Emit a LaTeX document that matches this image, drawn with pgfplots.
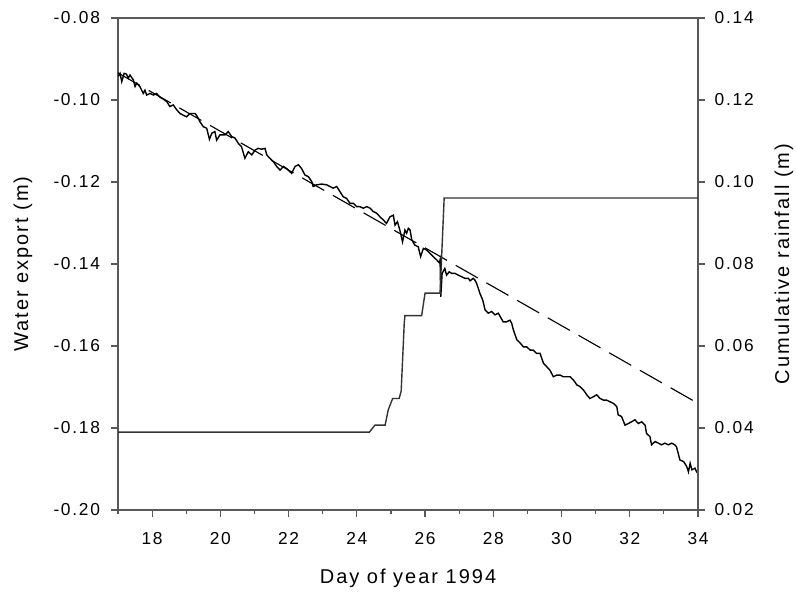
\documentclass[border=0pt]{standalone}
\usepackage{pgfplots}
\pgfplotsset{compat=1.18}
\usepackage{fontspec}
\setmainfont{Liberation Sans}[LetterSpace=10]
\definecolor{axcol}{gray}{0.35}
\newcommand{\tlf}{\fontsize{13}{15}\selectfont}
\begin{document}
\begin{tikzpicture}
\useasboundingbox (-88.5pt,-63.75pt) rectangle (508.5pt,382.5pt);
\pgfplotsset{
  mystyle/.style={
    scale only axis, width=435pt, height=369pt,
    at={(0,0)}, anchor=south west,
    xmin=17, xmax=34,
    tick align=outside,
    major tick length=5pt, minor tick length=3pt,
    axis line style={axcol, line width=0.9pt},
    every tick/.style={axcol, line width=0.9pt},
    every axis label/.append style={font=\fontsize{15}{18}\selectfont},
  }
}
\begin{axis}[mystyle,
  ymin=-0.20, ymax=-0.08,
  xtick={18,20,...,34},
  xticklabels={18,20,22,24,26,28,30,32,34},
  xticklabel style={font=\tlf, yshift=-8pt},
  minor xtick={17,19,...,33},
  xtick pos=lower, ytick pos=left,
  ytick={-0.20,-0.18,-0.16,-0.14,-0.12,-0.10,-0.08},
  yticklabels={-0.20,-0.18,-0.16,-0.14,-0.12,-0.10,-0.08},
  yticklabel style={font=\tlf, xshift=-5pt},
  xlabel={Day of year 1994},
  ylabel={Water export (m)},
  xlabel style={at={(axis description cs:0.5,-0.138)}, anchor=center},
  ylabel style={at={(axis description cs:-0.164,0.5)}, anchor=center},
]
\addplot[black, line width=0.85pt, dash pattern=on 19pt off 7.5pt] coordinates {(17,-0.0934) (34,-0.1740)};
\addplot[black, line width=1.05pt] coordinates {
(17.00,-0.0943) (17.06,-0.0935) (17.11,-0.0955) (17.18,-0.0935) (17.25,-0.0937)
(17.30,-0.0947) (17.35,-0.0939) (17.45,-0.0951) (17.50,-0.0967) (17.55,-0.0959)
(17.64,-0.0967) (17.74,-0.0984) (17.79,-0.0976) (17.84,-0.0988) (17.94,-0.0984)
(18.04,-0.0988) (18.13,-0.0984) (18.23,-0.0993) (18.33,-0.0998) (18.43,-0.1004)
(18.52,-0.1016) (18.62,-0.1012) (18.72,-0.1024) (18.82,-0.1033) (18.91,-0.1037)
(19.01,-0.1041) (19.11,-0.1033) (19.26,-0.1033) (19.33,-0.1041) (19.40,-0.1053)
(19.50,-0.1065) (19.60,-0.1069) (19.68,-0.1096) (19.75,-0.1081) (19.84,-0.1077)
(19.89,-0.1098) (19.99,-0.1085) (20.14,-0.1085) (20.23,-0.1077) (20.33,-0.1089)
(20.43,-0.1093) (20.53,-0.1106) (20.62,-0.1114) (20.72,-0.1142) (20.82,-0.1126)
(20.92,-0.1134) (21.02,-0.1122) (21.11,-0.1118) (21.21,-0.1120) (21.31,-0.1118)
(21.36,-0.1134) (21.45,-0.1142) (21.55,-0.1150) (21.65,-0.1162) (21.75,-0.1171)
(21.85,-0.1162) (21.94,-0.1167) (22.04,-0.1175) (22.09,-0.1179) (22.19,-0.1162)
(22.29,-0.1158) (22.38,-0.1167) (22.48,-0.1183) (22.58,-0.1187) (22.68,-0.1199)
(22.72,-0.1211) (22.82,-0.1207) (22.97,-0.1205) (23.12,-0.1207) (23.21,-0.1211)
(23.31,-0.1215) (23.41,-0.1211) (23.51,-0.1224) (23.60,-0.1236) (23.70,-0.1240)
(23.80,-0.1252) (23.90,-0.1252) (24.00,-0.1260) (24.09,-0.1260) (24.19,-0.1264)
(24.29,-0.1260) (24.39,-0.1264) (24.48,-0.1272) (24.58,-0.1276) (24.68,-0.1285)
(24.78,-0.1293) (24.87,-0.1301) (24.97,-0.1285) (25.07,-0.1281) (25.12,-0.1305)
(25.19,-0.1297) (25.26,-0.1317) (25.34,-0.1346) (25.41,-0.1317) (25.46,-0.1325)
(25.51,-0.1313) (25.56,-0.1317) (25.61,-0.1341) (25.70,-0.1354) (25.80,-0.1358)
(25.87,-0.1382) (25.95,-0.1362) (26.05,-0.1366) (26.14,-0.1374) (26.24,-0.1382)
(26.34,-0.1390) (26.42,-0.1397) (26.44,-0.1390) (26.46,-0.1480) (26.50,-0.1423)
(26.58,-0.1411) (26.63,-0.1427) (26.71,-0.1419) (26.78,-0.1423) (26.88,-0.1423)
(26.97,-0.1427) (27.07,-0.1431) (27.17,-0.1435) (27.27,-0.1435) (27.32,-0.1441)
(27.41,-0.1435) (27.46,-0.1439) (27.51,-0.1447) (27.61,-0.1472) (27.69,-0.1488)
(27.76,-0.1512) (27.85,-0.1520) (27.95,-0.1516) (28.05,-0.1524) (28.15,-0.1520)
(28.20,-0.1528) (28.29,-0.1541) (28.39,-0.1541) (28.49,-0.1537) (28.54,-0.1545)
(28.59,-0.1561) (28.69,-0.1585) (28.79,-0.1593) (28.88,-0.1602) (28.98,-0.1602)
(29.08,-0.1610) (29.17,-0.1610) (29.27,-0.1618) (29.37,-0.1618) (29.47,-0.1642)
(29.56,-0.1650) (29.66,-0.1659) (29.76,-0.1675) (29.86,-0.1671) (29.96,-0.1671)
(30.05,-0.1675) (30.15,-0.1675) (30.25,-0.1675) (30.35,-0.1683) (30.45,-0.1695)
(30.54,-0.1699) (30.64,-0.1707) (30.74,-0.1719) (30.83,-0.1728) (30.93,-0.1724)
(31.03,-0.1719) (31.13,-0.1728) (31.23,-0.1732) (31.32,-0.1732) (31.42,-0.1736)
(31.52,-0.1740) (31.62,-0.1748) (31.66,-0.1768) (31.76,-0.1772) (31.86,-0.1793)
(31.96,-0.1789) (32.05,-0.1785) (32.15,-0.1780) (32.25,-0.1789) (32.35,-0.1785)
(32.45,-0.1793) (32.49,-0.1813) (32.59,-0.1821) (32.64,-0.1841) (32.74,-0.1833)
(32.84,-0.1837) (32.93,-0.1841) (33.03,-0.1837) (33.13,-0.1841) (33.23,-0.1837)
(33.32,-0.1841) (33.37,-0.1846) (33.47,-0.1878) (33.58,-0.1882) (33.67,-0.1894)
(33.72,-0.1907) (33.77,-0.1886) (33.82,-0.1902) (33.91,-0.1898) (33.96,-0.1907)
(34.00,-0.1911)
};
\end{axis}
\begin{axis}[mystyle,
  ymin=0.02, ymax=0.14,
  axis x line=none, axis y line*=right,
  ytick={0.02,0.04,0.06,0.08,0.10,0.12,0.14},
  yticklabels={0.02,0.04,0.06,0.08,0.10,0.12,0.14},
  yticklabel style={font=\tlf, xshift=4pt},
  ylabel={Cumulative rainfall (m)},
  ylabel style={at={(axis description cs:1.148,0.5)}, anchor=center, rotate=0},
]
\addplot[black!80, line width=1.05pt] coordinates {
(17.00,0.0390) (24.37,0.0390) (24.53,0.0407) (24.83,0.0407) (24.92,0.0444)
(25.05,0.0472) (25.24,0.0472) (25.30,0.0490) (25.36,0.0600) (25.39,0.0656)
(25.41,0.0674) (25.90,0.0674) (26.00,0.0729) (26.44,0.0729) (26.56,0.0961)
(34.00,0.0961)
};
\end{axis}
\end{tikzpicture}
\end{document}
